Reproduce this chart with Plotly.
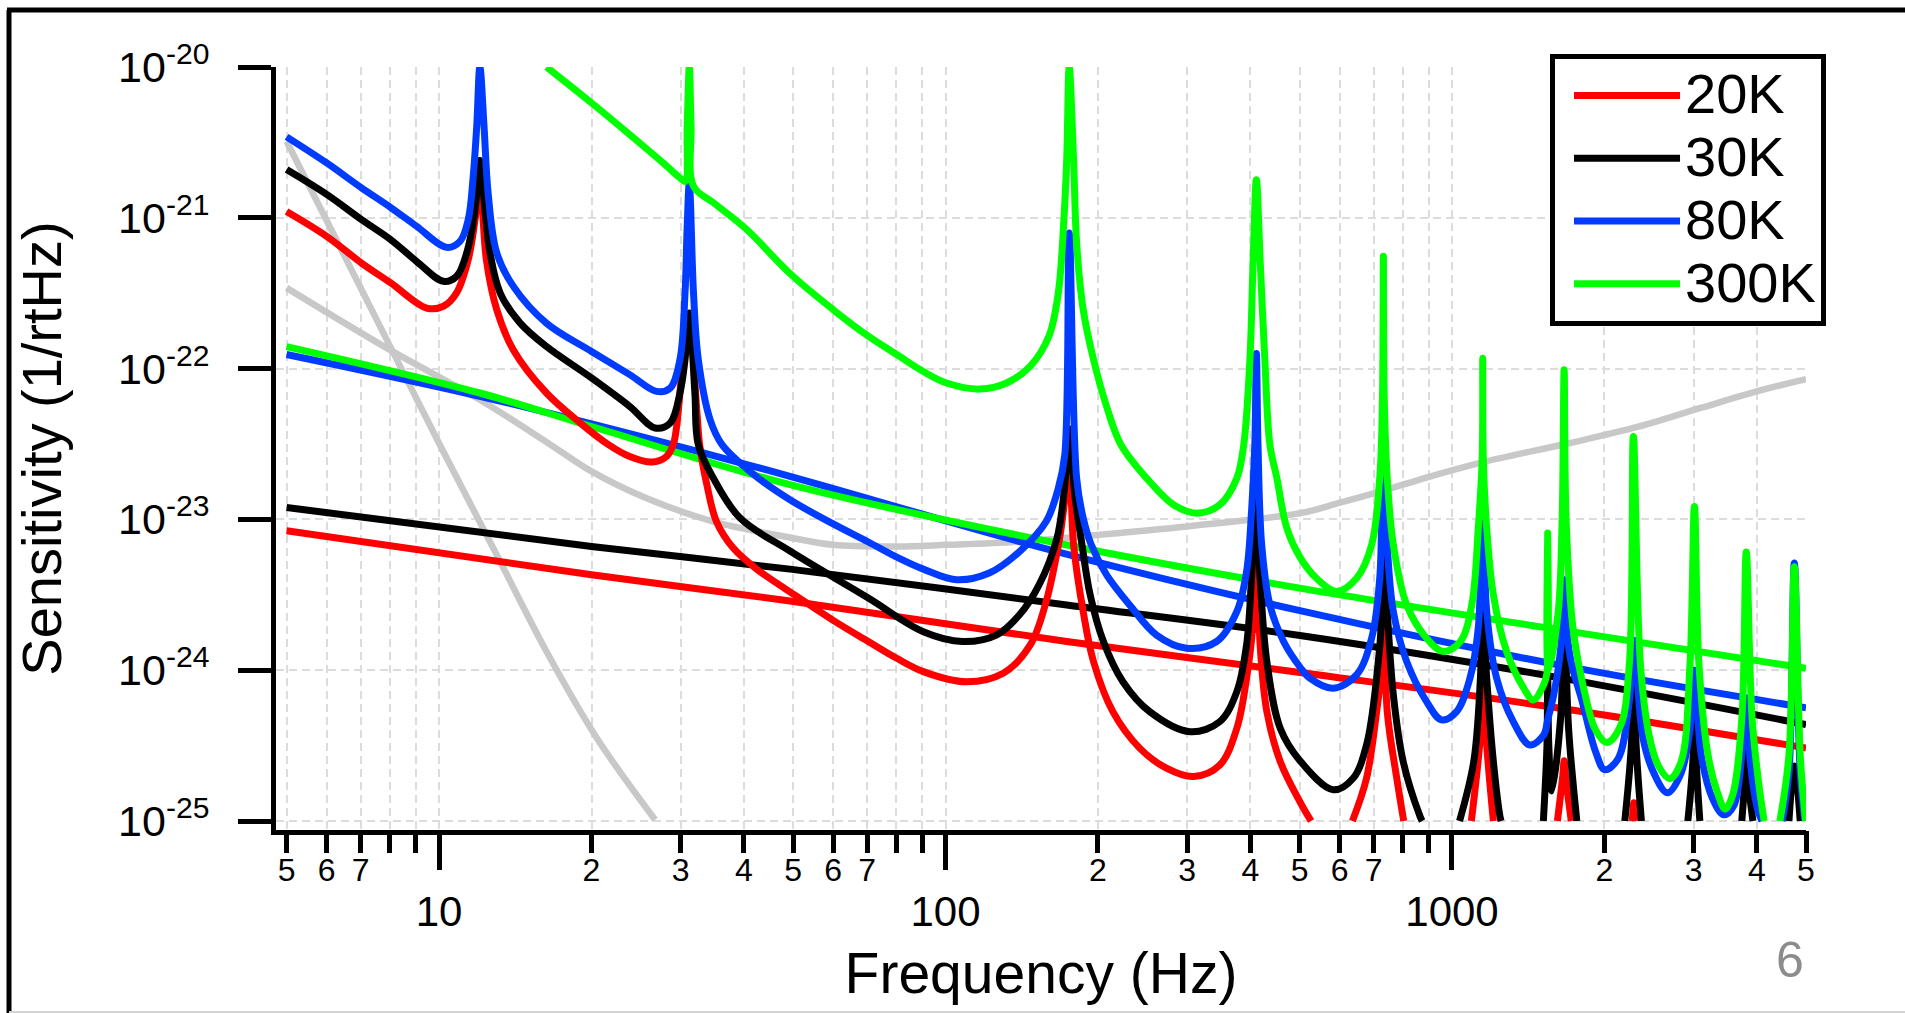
import plotly.graph_objects as go

# ---------------- data ----------------
# frequency in Hz, sensitivity in 1/rtHz ; (None, None) marks a break where the curve leaves the axis range
gray_steep = [(5.0, 3.22e-21), (7.0, 3.44e-22), (10.0, 3.2e-23), (13.0, 5.82e-24), (16.3, 1.33e-24),
              (20.5, 3.54e-25), (26.7, 1.02e-25)]

gray_bucket = [(5.0, 3.43e-22), (8.0, 1.33e-22), (12.04, 6.22e-23), (16.6, 3.13e-23), (20.0, 2.08e-23),
               (25.7, 1.38e-23), (34.8, 9.68e-24), (49.3, 7.59e-24), (60.0, 6.78e-24), (80.0, 6.61e-24),
               (100.5, 6.78e-24), (140.0, 7.13e-24), (202.0, 7.91e-24), (299.0, 8.97e-24), (501.0, 1.10e-23),
               (601.0, 1.29e-23), (732.0, 1.55e-23), (897.0, 1.91e-23), (1152.0, 2.40e-23), (1709.0, 3.21e-23),
               (2281.0, 4.04e-23), (3095.0, 5.48e-23), (3997.0, 7.06e-23), (5000.0, 8.51e-23)]

red_line = [(5.0, 8.4e-24), (20.0, 4.29e-24), (49.3, 2.88e-24), (173.5, 1.55e-24), (501.0, 9.66e-25),
            (1634.0, 5.6e-25), (5000.0, 3.05e-25)]
black_line = [(5.0, 1.20e-23), (20.0, 6.61e-24), (49.3, 4.68e-24), (173.5, 2.71e-24), (501.0, 1.70e-24),
              (1634.0, 8.9e-25), (5000.0, 4.36e-25)]
blue_line = [(5.0, 1.24e-22), (12.04, 6.55e-23), (28.1, 3.21e-23), (49.3, 1.93e-23), (165.8, 6.12e-24),
             (501.0, 2.48e-24), (1634.0, 1.08e-24), (5000.0, 5.64e-25)]
green_line = [(5.0, 1.40e-22), (12.04, 6.89e-23), (20.0, 4.13e-23), (49.3, 1.70e-23), (165.8, 6.97e-24),
              (501.0, 3.50e-24), (1634.0, 1.85e-24), (5000.0, 1.03e-24)]

red_res = [(5.0, 1.10e-21), (6.0, 7.53e-22), (7.03, 5.01e-22), (8.03, 3.70e-22), (9.45, 2.52e-22), (10.2, 2.59e-22),
           (10.83, 3.18e-22), (11.42, 5.28e-22), (11.78, 9.73e-22), (12.04, 1.78e-21), (12.4, 5.28e-22),
           (13.0, 2.46e-22), (14.02, 1.33e-22), (16.3, 6.89e-23), (19.0, 4.36e-23), (21.6, 3.13e-23),
           (23.8, 2.61e-23), (26.3, 2.40e-23), (28.1, 2.61e-23), (29.0, 3.13e-23), (29.45, 4.13e-23),
           (30.1, 8.87e-23), (30.6, 1.48e-22), (31.2, 2.0e-22), (32.3, 5.13e-23), (32.7, 3.13e-23),
           (33.8, 1.69e-23), (35.3, 9.68e-24), (38.1, 6.46e-24), (42.4, 4.68e-24), (49.3, 3.31e-24),
           (60.0, 2.14e-24), (70.4, 1.55e-24), (80.1, 1.20e-24), (90.4, 9.79e-25), (110.0, 8.39e-25),
           (130.0, 9.55e-25), (147.0, 1.47e-24), (158.0, 2.85e-24), (168.0, 7.52e-24), (175.5, 2.0e-23),
           (179.0, 6.78e-24), (187.0, 2.45e-24), (196.0, 1.14e-24), (214.0, 5.31e-25), (242.0, 3.03e-25),
           (273.0, 2.24e-25), (309.0, 1.97e-25), (348.0, 2.35e-25), (376.0, 4.12e-25), (393.0, 8.85e-25),
           (404.0, 1.91e-24), (411.0, 1.0e-23), (418.0, 1.47e-24), (431.0, 5.31e-25), (458.0, 2.48e-25),
           (501.0, 1.34e-25), (527.0, 1.0e-25), (None, None),
           (636.0, 1.0e-25), (678.0, 1.92e-25), (710.0, 5.31e-25), (728.0, 1.14e-24), (732.0, 3.16e-24),
           (745.0, 5.31e-25), (778.0, 1.92e-25), (803.0, 1.0e-25), (None, None),
           (1092.0, 1.0e-25), (1138.0, 3.72e-25), (1150.0, 1.0e-24), (1171.0, 3.19e-25), (1207.0, 1.0e-25),
           (None, None),
           (1615.0, 1.0e-25), (1655.0, 2.0e-25), (1665.0, 2.51e-25), (1675.0, 2.0e-25), (1720.0, 1.0e-25),
           (None, None),
           (2270.0, 1.0e-25), (2286.0, 1.32e-25), (2300.0, 1.0e-25)]

black_res = [(5.0, 2.09e-21), (6.0, 1.43e-21), (7.03, 9.73e-22), (8.03, 7.16e-22), (9.03, 5.14e-22), (10.2, 3.79e-22),
             (10.83, 4.09e-22), (11.34, 5.85e-22), (11.78, 1.13e-21), (12.04, 2.40e-21), (12.32, 1.13e-21),
             (12.61, 5.85e-22), (13.2, 3.18e-22), (14.45, 2.01e-22), (16.3, 1.40e-22), (20.0, 8.67e-23),
             (23.8, 5.61e-23), (26.7, 4.04e-23), (28.6, 4.36e-23), (29.9, 6.89e-23), (30.6, 1.15e-22),
             (31.2, 2.34e-22), (32.0, 6.89e-23), (32.5, 3.13e-23), (34.8, 1.88e-23), (39.3, 1.02e-23),
             (49.3, 6.17e-24), (70.4, 3.01e-24), (90.4, 1.80e-24), (108.0, 1.55e-24), (126.0, 1.71e-24),
             (140.0, 2.33e-24), (153.0, 3.68e-24),
             (166.0, 7.52e-24), (172.0, 1.69e-23), (175.5, 3.98e-23), (180.0, 1.46e-23), (186.0, 6.78e-24),
             (193.0, 3.16e-24), (205.0, 1.55e-24), (224.0, 8.39e-25), (253.0, 5.31e-25), (304.0, 3.91e-25),
             (348.0, 4.56e-25), (376.0, 7.21e-25), (393.0, 1.47e-24), (402.0, 4.07e-24), (411.0, 1.41e-23),
             (418.0, 4.07e-24), (431.0, 1.14e-24), (458.0, 4.12e-25), (501.0, 2.51e-25), (583.0, 1.61e-25),
             (638.0, 1.92e-25), (678.0, 3.19e-25), (710.0, 8.85e-25), (728.0, 2.45e-24), (732.0, 6.31e-24),
             (745.0, 2.45e-24), (766.0, 6.86e-25), (801.0, 2.48e-25), (865.0, 1.07e-25), (873.0, 1.0e-25),
             (None, None),
             (1035.0, 1.0e-25), (1104.0, 2.48e-25), (1138.0, 8.85e-25), (1150.0, 2.51e-24), (1171.0, 8.85e-25),
             (1207.0, 2.48e-25), (1244.0, 1.07e-25), (1250.0, 1.0e-25), (None, None),
             (1515.0, 1.0e-25), (1540.0, 3.16e-25), (1545.0, 9.33e-25), (1553.0, 3.16e-25), (1575.0, 1.58e-25),
             (1640.0, 5.01e-25), (1665.0, 2.09e-24), (1700.0, 3.98e-25), (1764.0, 1.0e-25), (None, None),
             (2194.0, 1.0e-25), (2260.0, 3.16e-25), (2286.0, 1.12e-24), (2310.0, 3.16e-25), (2366.0, 1.0e-25),
             (None, None),
             (2922.0, 1.0e-25), (2990.0, 2.51e-25), (3011.0, 6.61e-25), (3035.0, 2.51e-25), (3086.0, 1.0e-25),
             (None, None),
             (3734.0, 1.0e-25), (3790.0, 2.0e-25), (3811.0, 3.59e-25), (3835.0, 2.0e-25), (3928.0, 1.0e-25),
             (None, None),
             (4627.0, 1.0e-25), (4742.0, 2.32e-25), (4870.0, 1.0e-25)]

blue_res = [(5.0, 3.44e-21), (6.0, 2.31e-21), (7.03, 1.58e-21), (8.03, 1.17e-21), (9.03, 8.79e-22), (10.35, 6.37e-22),
            (11.0, 6.98e-22), (11.42, 9.73e-22), (11.68, 1.88e-21), (11.87, 4.05e-21), (12.04, 1.0e-20),
            (12.27, 4.05e-21), (12.5, 1.46e-21), (13.0, 5.85e-22), (14.02, 3.51e-22), (16.3, 2.0e-22),
            (20.0, 1.30e-22), (23.8, 9.12e-23), (26.9, 7.06e-23), (28.6, 7.43e-23), (29.9, 1.15e-22),
            (30.6, 3.18e-22), (30.9, 8.79e-22), (31.2, 1.70e-21), (31.8, 3.18e-22), (32.5, 1.15e-22),
            (34.3, 4.58e-23), (36.2, 3.13e-23), (41.7, 2.0e-23), (49.3, 1.35e-23), (60.0, 9.33e-24),
            (70.4, 7.08e-24), (80.1, 5.62e-24), (90.4, 4.68e-24), (105.0, 3.98e-24), (122.0, 4.41e-24),
            (140.0, 6.12e-24), (158.0, 9.68e-24), (167.0, 1.61e-23), (172.0, 2.69e-23), (175.5, 7.94e-22),
            (181.5, 1.88e-23), (187.0, 1.02e-23), (194.0, 6.78e-24), (208.0, 4.29e-24), (231.0, 2.71e-24),
            (261.0, 1.71e-24), (299.0, 1.40e-24), (343.0, 1.55e-24), (376.0, 2.45e-24), (393.0, 4.51e-24),
            (402.0, 1.13e-23), (408.0, 3.13e-23), (411.0, 1.26e-22), (414.0, 3.13e-23), (421.0, 6.78e-24),
            (437.0, 2.71e-24), (465.0, 1.55e-24), (501.0, 1.05e-24), (524.0, 8.85e-25), (583.0, 7.59e-25),
            (648.0, 9.31e-25), (694.0, 1.63e-24), (720.0, 4.07e-24), (728.0, 2.08e-23), (732.0, 3.98e-23),
            (736.0, 2.08e-23), (745.0, 6.78e-24), (766.0, 2.45e-24), (814.0, 1.14e-24), (891.0, 6.19e-25),
            (954.0, 4.68e-25), (1021.0, 5.31e-25), (1085.0, 8.85e-25), (1127.0, 1.91e-24), (1150.0, 1.26e-23),
            (1171.0, 2.45e-24), (1225.0, 8.85e-25), (1321.0, 4.56e-25), (1425.0, 3.19e-25), (1517.0, 3.72e-25),
            (1545.0, 4.68e-25), (1588.0, 6.86e-25), (1640.0, 1.41e-24), (1658.0, 3.16e-24), (1665.0, 3.98e-24),
            (1675.0, 2.19e-24), (1720.0, 1.12e-24), (1807.0, 6.22e-25), (1921.0, 2.88e-25), (2002.0, 2.19e-25),
            (2128.0, 2.59e-25), (2239.0, 6.22e-25), (2286.0, 1.58e-24), (2381.0, 3.59e-25), (2505.0, 2.07e-25),
            (2663.0, 1.54e-25), (2832.0, 2.07e-25), (2950.0, 4.01e-25), (3011.0, 1.0e-24), (3105.0, 2.74e-25),
            (3269.0, 1.41e-25), (3441.0, 1.10e-25), (3600.0, 1.26e-25), (3734.0, 2.74e-25), (3811.0, 6.31e-25),
            (3889.0, 2.32e-25), (4011.0, 1.20e-25), (4093.0, 1.0e-25), (None, None),
            (4487.0, 1.0e-25), (4627.0, 2.09e-25), (4742.0, 5.14e-24), (4870.0, 2.09e-25), (4972.0, 1.02e-25)]

green_res = [(16.3, 1.0e-20), (20.0, 5.78e-21), (23.8, 3.56e-21), (27.7, 2.31e-21), (29.9, 1.84e-21),
             (30.6, 1.74e-21), (30.9, 4.05e-21),
             (31.2, 1.0e-20), (31.45, 4.07e-21), (31.8, 1.62e-21), (34.8, 1.26e-21), (40.5, 8.36e-22),
             (49.3, 4.27e-22), (60.0, 2.46e-22), (70.4, 1.64e-22), (80.1, 1.24e-22), (90.4, 9.57e-23),
             (100.5, 8.02e-23), (117.0, 7.31e-23), (132.0, 8.02e-23), (147.0, 1.04e-22), (160.0, 1.64e-22),
             (167.0, 3.18e-22), (171.0, 8.79e-22), (173.5, 2.43e-21), (175.5, 1.0e-20), (179.0, 2.43e-21),
             (181.5, 6.81e-22), (187.0, 2.46e-22), (196.0, 1.15e-22), (208.0, 5.61e-23), (222.0, 3.13e-23),
             (253.0, 1.78e-23), (282.0, 1.25e-23), (313.0, 1.10e-23), (348.0, 1.25e-23), (376.0, 1.88e-23),
             (388.0, 3.13e-23), (399.0, 1.15e-22), (405.0, 5.28e-22), (411.0, 1.79e-21), (418.0, 5.28e-22),
             (427.0, 1.15e-22), (437.0, 3.13e-23), (451.0, 1.88e-23), (472.0, 8.75e-24), (501.0, 5.62e-24),
             (540.0, 4.07e-24), (592.0, 3.33e-24), (648.0, 4.07e-24), (694.0, 6.78e-24), (720.0, 1.88e-23),
             (729.0, 6.31e-23), (732.0, 5.56e-22), (735.0, 6.31e-23), (745.0, 1.88e-23), (766.0, 6.78e-24),
             (814.0, 2.71e-24), (891.0, 1.63e-24), (961.0, 1.33e-24), (1039.0, 1.55e-24), (1094.0, 2.71e-24),
             (1127.0, 8.75e-24), (1147.0, 2.51e-23), (1150.0, 1.17e-22), (1153.0, 2.51e-23), (1171.0, 8.75e-24),
             (1207.0, 3.16e-24), (1282.0, 1.33e-24), (1386.0, 7.59e-25), (1447.0, 6.35e-25), (1517.0, 8.0e-25),
             (1540.0, 9.55e-25), (1545.0, 8.13e-24), (1550.0, 1.0e-24), (1621.0, 2.45e-24), (1650.0, 1.0e-23),
             (1665.0, 9.84e-23), (1680.0, 1.0e-23), (1735.0, 1.86e-24), (1845.0, 6.22e-25), (1921.0, 4.01e-25),
             (2022.0, 3.31e-25), (2149.0, 4.24e-25), (2239.0, 1.08e-24), (2281.0, 3.55e-23), (2356.0, 1.08e-24),
             (2455.0, 3.59e-25), (2557.0, 2.32e-25), (2691.0, 1.91e-25), (2832.0, 2.45e-25), (2950.0, 1.08e-24),
             (3011.0, 1.22e-23), (3074.0, 1.08e-24), (3203.0, 2.74e-25), (3336.0, 1.58e-25), (3461.0, 1.20e-25),
             (3583.0, 1.49e-25), (3734.0, 4.73e-25), (3811.0, 6.07e-24), (3914.0, 4.73e-25), (4051.0, 1.58e-25),
             (4135.0, 1.0e-25), (None, None),
             (4440.0, 1.0e-25), (4627.0, 2.74e-25), (4742.0, 4.86e-24), (4870.0, 2.74e-25), (4990.0, 1.0e-25)]

series_names = ["20K", "30K", "80K", "300K"]

x_major_ticks = [10, 100, 1000]
x_major_labels = ["10", "100", "1000"]
x_minor_ticks = [5, 6, 7, 20, 30, 40, 50, 60, 70, 200, 300, 400, 500, 600, 700, 2000, 3000, 4000, 5000]
x_minor_labels = ["5", "6", "7", "2", "3", "4", "5", "6", "7", "2", "3", "4", "5", "6", "7", "2", "3", "4", "5"]
x_unlabeled_ticks = [5, 6, 7, 8, 9, 10, 20, 30, 40, 50, 60, 70, 80, 90, 100, 200, 300, 400, 500, 600, 700, 800, 900,
                     1000, 2000, 3000, 4000, 5000]
y_ticks = [1e-20, 1e-21, 1e-22, 1e-23, 1e-24, 1e-25]
y_labels = ["10<sup>-20</sup>", "10<sup>-21</sup>", "10<sup>-22</sup>", "10<sup>-23</sup>", "10<sup>-24</sup>",
            "10<sup>-25</sup>"]

# ---------------- styling ----------------
RED, BLACK, BLUE, GREEN, GRAY = "#ff0000", "#000000", "#003cff", "#00ff00", "#c8c8c8"
FONT = "Liberation Sans, Arial, sans-serif"
LW = 7
GRID = dict(showgrid=True, gridcolor="#dcdcdc", gridwidth=1.5, griddash="8px,5px")


def xy(points):
    return [p[0] for p in points], [p[1] for p in points]


fig = go.Figure()


def add(points, color, width, name=None, legend=False, xaxis="x"):
    xs, ys = xy(points)
    fig.add_trace(go.Scatter(
        x=xs, y=ys, mode="lines", xaxis=xaxis, yaxis="y",
        line=dict(color=color, width=width, shape="spline", smoothing=1, simplify=False),
        connectgaps=False,
        name=(f'<span style="font-size:56px">{name}</span>' if name else None),
        showlegend=legend, hoverinfo="skip"))


add(gray_steep, GRAY, 6.5)
add(gray_bucket, GRAY, 6.5)
add(red_line, RED, LW)
add(black_line, BLACK, LW)
add(blue_line, BLUE, LW)
add(green_line, GREEN, LW)
add(red_res, RED, LW, series_names[0], True)
add(black_res, BLACK, LW, series_names[1], True)
add(blue_res, BLUE, LW, series_names[2], True)
add(green_res, GREEN, LW, series_names[3], True, xaxis="x2")

x_range = [0.6781, 3.69897]
y_range = [-25.0597, -20]

fig.update_layout(
    width=1905, height=1013,
    margin=dict(l=276, r=99, t=67, b=183, pad=0),
    paper_bgcolor="white", plot_bgcolor="white",
    font=dict(family=FONT, color="black"),
    xaxis=dict(type="log", range=x_range, tickmode="array", tickvals=x_major_ticks, ticktext=x_major_labels,
               ticks="outside", ticklen=35, tickwidth=5, tickcolor="black",
               showline=True, linewidth=5, linecolor="black", zeroline=False, **GRID,
               minor=dict(tickmode="array", tickvals=x_unlabeled_ticks, ticks="outside", ticklen=18, tickwidth=5,
                          tickcolor="black", **GRID),
               tickfont=dict(size=42, family=FONT, color="black"), ticklabelstandoff=6,
               title=dict(text="Frequency (Hz)", font=dict(size=57, family=FONT, color="black"), standoff=20)),
    xaxis2=dict(type="log", range=x_range, overlaying="x", anchor="y", side="bottom",
                tickmode="array", tickvals=x_minor_ticks, ticktext=x_minor_labels,
                ticks="outside", ticklen=18, tickwidth=5, tickcolor="black",
                showline=False, showgrid=False, zeroline=False,
                tickfont=dict(size=32, family=FONT, color="black"), ticklabelstandoff=-6),
    yaxis=dict(type="log", range=y_range, tickmode="array", tickvals=y_ticks, ticktext=y_labels,
               ticks="outside", ticklen=33, tickwidth=5, tickcolor="black",
               showline=True, linewidth=5, linecolor="black", zeroline=False, **GRID,
               tickfont=dict(size=43, family=FONT, color="black"), ticklabelstandoff=20,
               title=dict(text="Sensitivity (1/rtHz)", font=dict(size=56, family=FONT, color="black"),
                          standoff=40)),
    legend=dict(x=0.8327, y=1.017, xanchor="left", yanchor="top", bgcolor="white",
                bordercolor="black", borderwidth=5, font=dict(size=46, family=FONT, color="black"),
                itemwidth=106, indentation=14, tracegroupgap=0, traceorder="normal"),
    showlegend=True,
    hovermode=False,
)

# slide frame and page number
fig.add_shape(type="line", xref="paper", yref="paper", x0=-0.1758, x1=1.07, y0=1.0747, y1=1.0747,
              line=dict(color="black", width=5))
fig.add_shape(type="line", xref="paper", yref="paper", x0=-0.1745, x1=-0.1745, y0=1.0747, y1=-0.245,
              line=dict(color="black", width=5))
fig.add_shape(type="line", xref="paper", yref="paper", x0=-0.1745, x1=1.07, y0=-0.2385, y1=-0.2385,
              line=dict(color="#d4d4d4", width=2))
fig.add_annotation(text="6", xref="paper", yref="paper", x=0.9895, y=-0.1704, xanchor="center",
                   yanchor="middle", showarrow=False, font=dict(size=50, family=FONT, color="#8c8c8c"))

fig.write_html("out.html", config={"displayModeBar": False},
               post_script="document.body.style.margin='0';document.body.style.overflow='hidden';")
